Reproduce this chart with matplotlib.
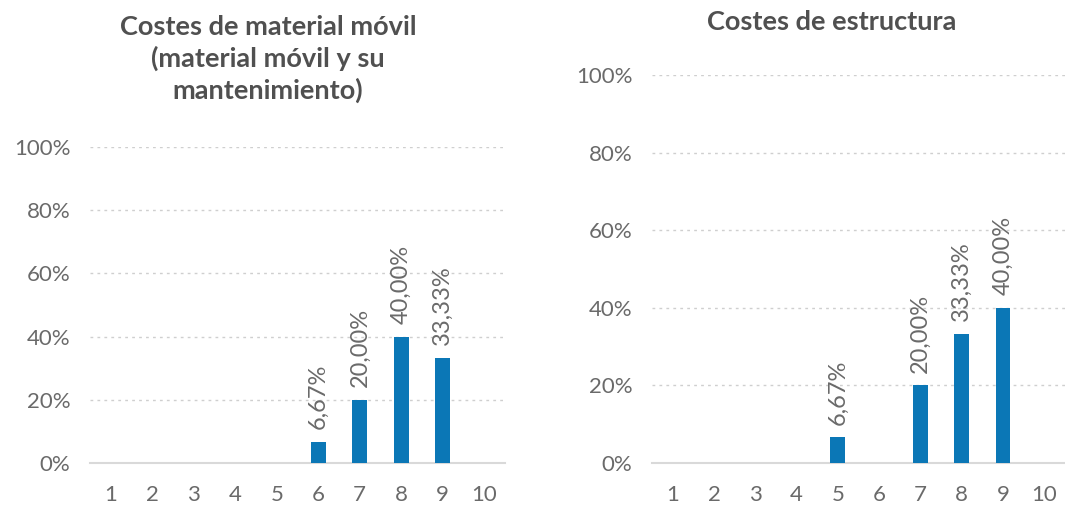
import numpy as np
import matplotlib.pyplot as plt

categories = [1, 2, 3, 4, 5, 6, 7, 8, 9, 10]
material_movil = [0, 0, 0, 0, 0, 0.0667, 0.20, 0.40, 0.3333, 0]
estructura = [0, 0, 0, 0, 0.0667, 0, 0.20, 0.3333, 0.40, 0]
yticks = [0, 0.2, 0.4, 0.6, 0.8, 1.0]

bar_color = '#0B77B6'
text_color = '#6a6a6a'
title_color = '#505050'

plt.rcParams['font.family'] = ['Lato', 'DejaVu Sans']

fig = plt.figure(figsize=(10.65, 5.08), dpi=100)
ax1 = fig.add_axes([90 / 1065, 45 / 508, 415 / 1065, 316 / 508])
ax2 = fig.add_axes([652 / 1065, 45 / 508, 413 / 1065, 388 / 508])


def fmt(v):
    return ('%.2f%%' % (v * 100)).replace('.', ',')


def draw(ax, values):
    ax.bar(categories, values, width=0.36, color=bar_color, zorder=3)
    ax.set_xlim(0.5, 10.5)
    ax.set_ylim(0, 1)
    ax.set_xticks(categories)
    ax.set_xticklabels([str(c) for c in categories])
    ax.set_yticks(yticks)
    ax.set_yticklabels(['%d%%' % round(t * 100) for t in yticks])
    ax.tick_params(axis='both', length=0, labelsize=16, colors=text_color)
    ax.tick_params(axis='y', pad=14)
    ax.tick_params(axis='x', pad=16)
    for t in yticks[1:]:
        ax.axhline(t, color='#cfcfcf', lw=1, ls=(0, (2, 3)), zorder=1)
    for s in ['top', 'right', 'left']:
        ax.spines[s].set_visible(False)
    ax.spines['bottom'].set_color('#d9d9d9')
    ax.spines['bottom'].set_linewidth(1.5)
    for c, v in zip(categories, values):
        if v > 0:
            ax.annotate(fmt(v), (c, v), xytext=(0, 9), textcoords='offset points',
                        rotation=90, ha='center', va='bottom', fontsize=17,
                        color=text_color)


draw(ax1, material_movil)
draw(ax2, estructura)

fig.text(268 / 1065, 1 - 59 / 508,
         'Costes de material móvil\n(material móvil y su\nmantenimiento)',
         ha='center', va='center', fontsize=19.5, fontweight='bold',
         color=title_color, linespacing=1.3)
fig.text(832 / 1065, 1 - 22 / 508, 'Costes de estructura', ha='center',
         va='center', fontsize=19.5, fontweight='bold', color=title_color)

fig.savefig('out.png', dpi=100)
